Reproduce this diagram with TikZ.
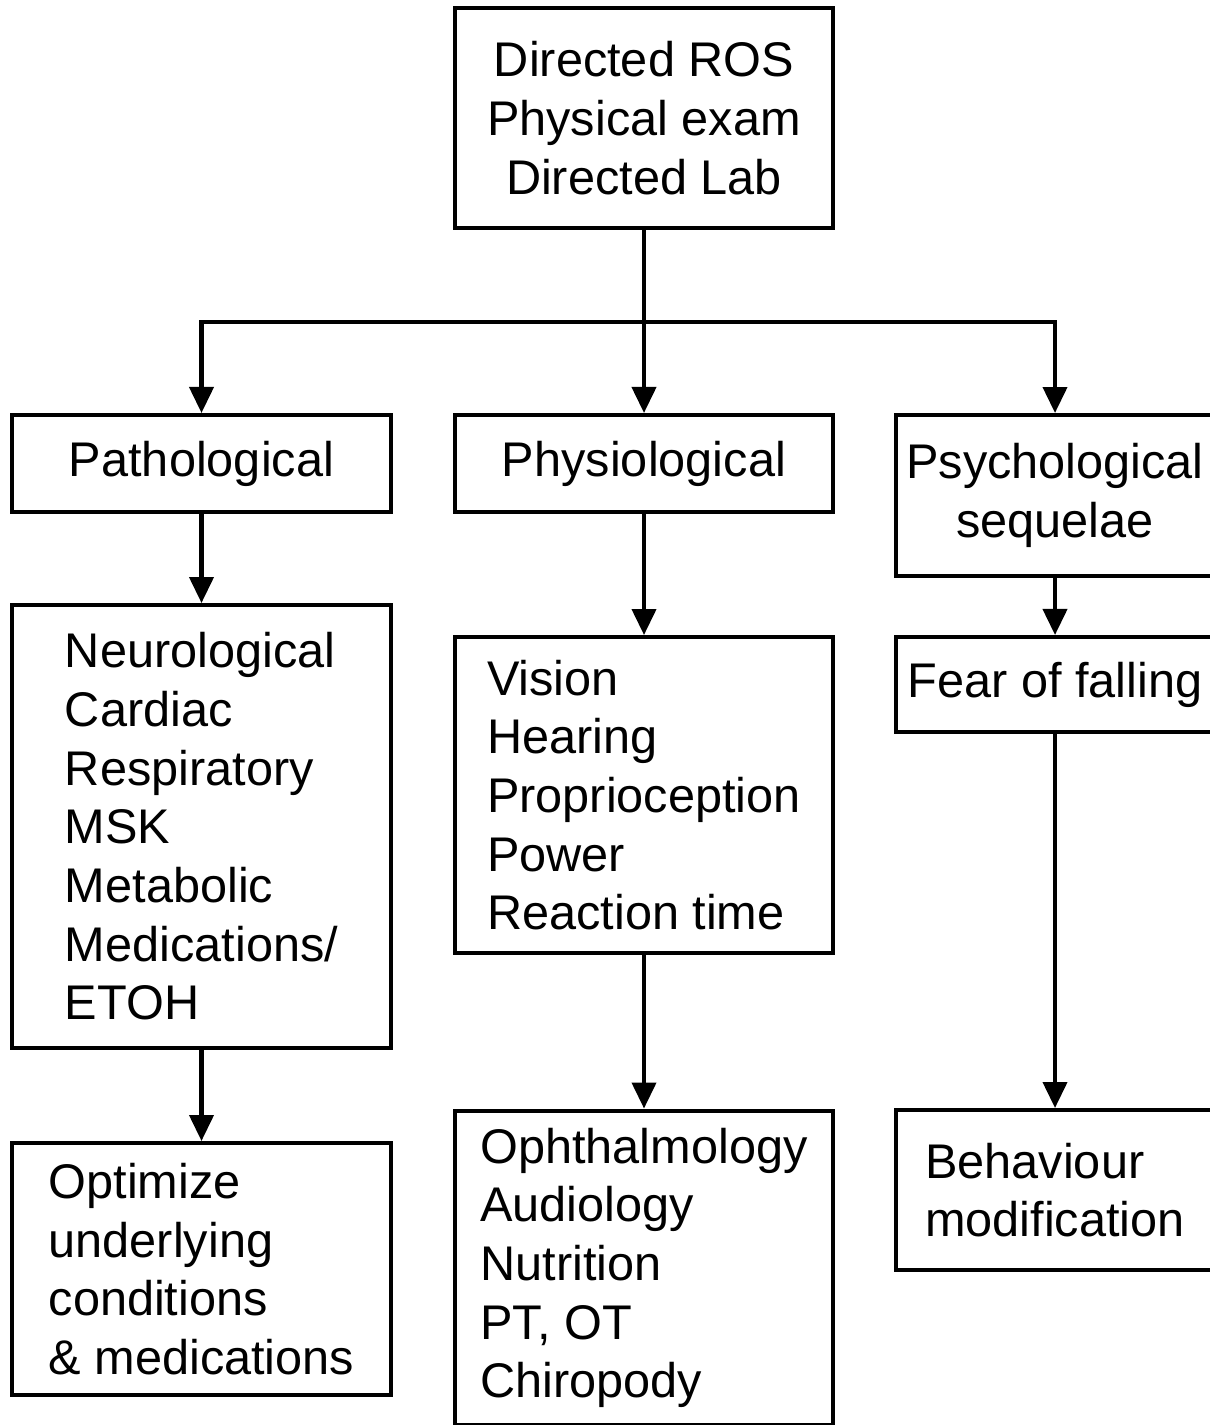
\documentclass[tikz,border=0pt]{standalone}
\usepackage{fontspec}
\setmainfont{Liberation Sans}
\usetikzlibrary{arrows.meta}

\begin{document}
\begin{tikzpicture}[x=0.02cm, y=-0.02cm, line width=2.3pt,
  box/.style={draw, rectangle, inner sep=0pt, align=left, font=\fontsize{27.7}{33.4}\selectfont},
  arr/.style={-{Triangle[width=0.48cm,length=0.52cm]}}]

\useasboundingbox (0,0) rectangle (1209,1425);

% top of the tree
\node[box, align=center, minimum width=7.56cm, minimum height=4.4cm] (top) at (644,118) {Directed ROS\\Physical exam\\Directed Lab};

% second row
\node[box, align=center, minimum width=7.58cm, minimum height=1.94cm] (patho) at (201.5,463.5) {Pathological};
\node[box, align=center, minimum width=7.56cm, minimum height=1.94cm] (physio) at (644,463.5) {Physiological};
\node[box, align=center, minimum width=6.36cm, minimum height=3.22cm] (psych) at (1055,495.5) {Psychological\\sequelae};

% third row
\node[box, minimum width=7.58cm, minimum height=8.86cm] (neuro) at (201.5,826.5) {Neurological\\Cardiac\\Respiratory\\MSK\\Metabolic\\Medications/\\ETOH};
\node[box, minimum width=7.56cm, minimum height=6.32cm] (vision) at (644,795) {Vision\\Hearing\\Proprioception\\Power\\Reaction time};
\node[box, minimum width=6.36cm, minimum height=1.9cm] (fear) at (1055,684.5) {Fear of falling};

% bottom row
\node[box, minimum width=7.58cm, minimum height=5.04cm] (optim) at (201.5,1269) {Optimize\\underlying\\conditions\\\& medications};
\node[box, minimum width=7.56cm, minimum height=6.3cm] (ophth) at (644,1268) {Ophthalmology\\Audiology\\Nutrition\\PT, OT\\Chiropody};
\node[box, minimum width=6.36cm, minimum height=3.2cm] (behav) at (1055,1190) {Behaviour\\modification};

% connectors
\coordinate (bar) at (644,322);
\draw[arr] (top.south) -- (physio.north);
\draw[arr] (bar) -| (patho.north);
\draw[arr] (bar) -| (psych.north);

\draw[arr] (patho.south) -- (neuro.north);
\draw[arr] (neuro.south) -- (optim.north);
\draw[arr] (physio.south) -- (vision.north);
\draw[arr] (vision.south) -- (ophth.north);
\draw[arr] (psych.south) -- (fear.north);
\draw[arr] (fear.south) -- (behav.north);

\end{tikzpicture}
\end{document}
